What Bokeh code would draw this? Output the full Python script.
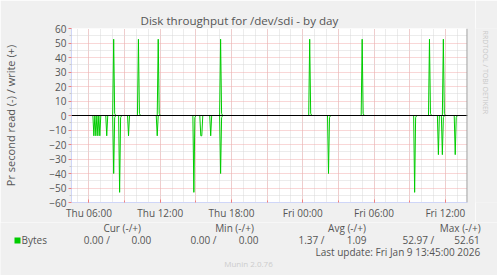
import math
import pandas as pd
from bokeh.plotting import figure
from bokeh.layouts import column, row
from bokeh.models import (Span, FixedTicker, DatetimeTickFormatter, Range1d,
                          ColumnDataSource)
from bokeh.core.properties import value
from bokeh.embed import file_html
from bokeh.resources import INLINE

# ---------------- data ----------------
start_time = "2026-01-08 04:32"
end_time = "2026-01-09 13:52"
sample_start = "2026-01-08 04:30"
sample_end = "2026-01-09 13:50"

write_times = ["2026-01-08 08:05", "2026-01-08 08:10",
               "2026-01-08 10:10", "2026-01-08 10:15",
               "2026-01-08 11:50", "2026-01-08 11:55",
               "2026-01-08 17:05", "2026-01-08 17:10",
               "2026-01-09 00:35", "2026-01-09 00:40",
               "2026-01-09 05:00", "2026-01-09 05:05",
               "2026-01-09 10:40", "2026-01-09 10:45",
               "2026-01-09 11:50", "2026-01-09 11:55"]
write_values = [52.6, 1.5, 52.6, 1.5, 52.6, 1.5, 52.6, 1.5,
                52.6, 1.5, 52.6, 1.5, 52.6, 1.5, 52.6, 1.5]

read_times = ["2026-01-08 06:25", "2026-01-08 06:35", "2026-01-08 06:45", "2026-01-08 06:55",
              "2026-01-08 07:30", "2026-01-08 08:05", "2026-01-08 08:10",
              "2026-01-08 08:35", "2026-01-08 08:40", "2026-01-08 09:20",
              "2026-01-08 11:45", "2026-01-08 14:50", "2026-01-08 14:55",
              "2026-01-08 15:25", "2026-01-08 15:30", "2026-01-08 16:15",
              "2026-01-08 17:05", "2026-01-08 17:10",
              "2026-01-09 02:10", "2026-01-09 02:15",
              "2026-01-09 09:25", "2026-01-09 09:30",
              "2026-01-09 11:25", "2026-01-09 11:45", "2026-01-09 11:50",
              "2026-01-09 12:50", "2026-01-09 12:55"]
read_values = [14, 14, 14, 14,
               14, 40, 1.5,
               53, 1.5, 14,
               14, 53, 1.5,
               14, 14, 14,
               40, 1.5,
               40, 1.5,
               53, 1.5,
               27, 27, 1.5,
               27, 1.5]

y_ticks = [-60, -50, -40, -30, -20, -10, 0, 10, 20, 30, 40, 50, 60]
y_minor = [-55, -45, -35, -25, -15, -5, 5, 15, 25, 35, 45, 55]
x_label_times = ["2026-01-08 06:00", "2026-01-08 12:00", "2026-01-08 18:00",
                 "2026-01-09 00:00", "2026-01-09 06:00", "2026-01-09 12:00"]

title_text = "Disk throughput for /dev/sdi - by day"
y_label_text = "Pr second read (-) / write (+)"
legend_headers = ["Cur (-/+)", "Min (-/+)", "Avg (-/+)", "Max (-/+)"]
series_name = "Bytes"
read_stats = ["0.00 /", "0.00 /", "1.37 /", "52.97 /"]
write_stats = ["0.00", "0.00", "1.09", "52.61"]
last_update = "Last update: Fri Jan  9 13:45:00 2026"
munin_version = "Munin 2.0.76"
side_text = "RRDTOOL / TOBI OETIKER"

# ---------------- series on the 5-minute grid ----------------
t0 = pd.Timestamp(start_time)
t1 = pd.Timestamp(end_time)
grid = pd.date_range(sample_start, sample_end, freq="5min")
write = pd.Series(0.0, index=grid)
read = pd.Series(0.0, index=grid)
for t, v in zip(write_times, write_values):
    write.loc[pd.Timestamp(t)] = v
for t, v in zip(read_times, read_values):
    read.loc[pd.Timestamp(t)] = -v
src = ColumnDataSource(dict(t=write.index, w=write.values, r=read.values))

FONT = "Open Sans"
TXT = "#555555"
BG = "#F0F0F0"
W = 497
SIDE_W = 22
MAIN_W = W - SIDE_W
MAIN_H = 222
LEG_H = 275 - MAIN_H
FL, FT = 67, 28
FR = MAIN_W - 467
FB = MAIN_H - 203

p = figure(width=MAIN_W, height=MAIN_H, x_axis_type="datetime",
           x_range=Range1d(t0, t1), y_range=Range1d(-60, 60),
           output_backend="svg", toolbar_location=None,
           min_border_left=FL, min_border_right=FR,
           min_border_top=FT, min_border_bottom=FB,
           background_fill_color="white", border_fill_color=BG,
           outline_line_color=None)

p.title.text = title_text
p.title.align = "left"
p.title.offset = 69
p.title.text_font = FONT
p.title.text_font_size = "11.6px"
p.title.text_font_style = "normal"
p.title.text_color = TXT
p.title.standoff = 1

ms = lambda s: pd.Timestamp(s).value / 1e6
grid3 = [ts.value / 1e6 for ts in pd.date_range("2026-01-08 06:00", "2026-01-09 15:00", freq="3h")]
grid1 = [ts.value / 1e6 for ts in pd.date_range("2026-01-08 04:00", "2026-01-09 15:00", freq="1h")]
p.xgrid.ticker = FixedTicker(ticks=grid3, minor_ticks=grid1)
p.ygrid.ticker = FixedTicker(ticks=y_ticks, minor_ticks=y_minor)
for g in (p.xgrid, p.ygrid):
    g.grid_line_color = "#F2AEAE"
    g.grid_line_dash = "1 1"
    g.minor_grid_line_color = "#D8D8D8"
    g.minor_grid_line_dash = "1 1"

p.xaxis.ticker = FixedTicker(ticks=[ms(s) for s in x_label_times], minor_ticks=grid3)
p.xaxis.formatter = DatetimeTickFormatter(hours="%a %H:%M", days="%a %H:%M", hourmin="%a %H:%M")
p.yaxis.ticker = FixedTicker(ticks=y_ticks, minor_ticks=y_minor)
for ax in (p.xaxis, p.yaxis):
    ax.axis_line_color = "#CFD6F8"
    ax.major_label_text_font = FONT
    ax.major_label_text_font_size = "10px"
    ax.major_label_text_color = TXT
    ax.major_label_standoff = 2
p.yaxis.major_tick_line_color = "#F08080"
p.yaxis.major_tick_out = 3
p.yaxis.major_tick_in = 0
p.yaxis.minor_tick_line_color = "#C8C8C8"
p.yaxis.minor_tick_out = 2
p.yaxis.minor_tick_in = 0
p.yaxis.axis_label = y_label_text
p.yaxis.axis_label_text_font = FONT
p.yaxis.axis_label_text_font_size = "11px"
p.yaxis.axis_label_text_font_style = "normal"
p.yaxis.axis_label_text_color = TXT
p.yaxis.axis_label_standoff = 28
p.xaxis.major_tick_line_color = "#F08080"
p.xaxis.major_tick_out = 0
p.xaxis.major_tick_in = 3
p.xaxis.minor_tick_line_color = "#F08080"
p.xaxis.minor_tick_out = 0
p.xaxis.minor_tick_in = 2
p.xaxis.major_label_standoff = 3

p.line("t", "w", source=src, line_color="#00CC00", line_width=1)
p.line("t", "r", source=src, line_color="#00CC00", line_width=1)
p.add_layout(Span(location=0, dimension="width", line_color="black", line_width=1))
p.add_layout(Span(location=t1, dimension="height", line_color="#999999", line_width=2))

# ---------------- right strip with the vertical credit text ----------------
s = figure(width=SIDE_W, height=MAIN_H, x_range=Range1d(MAIN_W, W), y_range=Range1d(MAIN_H, 0),
           output_backend="svg", toolbar_location=None, min_border=0,
           background_fill_color=BG, border_fill_color=BG, outline_line_color=None)
s.axis.visible = False
s.grid.visible = False
s.text(x=[485], y=[56], text=[side_text], angle=-math.pi / 2,
       text_font=value(FONT), text_font_size=value("7px"), text_color="#C8C8C8",
       text_align="center", text_baseline="middle")

# ---------------- legend block (canvas-pixel coordinates) ----------------
q = figure(width=W, height=LEG_H, x_range=Range1d(0, W), y_range=Range1d(275, MAIN_H),
           output_backend="svg", toolbar_location=None, min_border=0,
           background_fill_color=BG, border_fill_color=BG, outline_line_color=None)
q.axis.visible = False
q.grid.visible = False

def txt(xs, ys, texts, size, color=TXT, align="left"):
    q.text(x=xs, y=ys, text=texts, text_font=value(FONT), text_font_size=value(size),
           text_color=color, text_align=align, text_baseline="middle")

txt([121.7, 234, 346.5, 459.7], [227.6] * 4, legend_headers, "10px", align="center")
q.scatter(x=[17], y=[240], marker="square", size=6, fill_color="#00CC00", line_color=None)
txt([21], [239.5], [series_name], "10px")
txt([109.3, 216, 324, 433.7], [239.5] * 4, read_stats, "10px", align="right")
txt([150.7, 258, 366, 479.3], [239.5] * 4, write_stats, "10px", align="right")
txt([482.3], [251.5], [last_update], "10px", align="right")
txt([248], [262.5], [munin_version], "8px", color="#CCCCCC", align="center")

layout = column(row(p, s, spacing=0), q, spacing=0)
open("out.html", "w").write(file_html(layout, INLINE))
